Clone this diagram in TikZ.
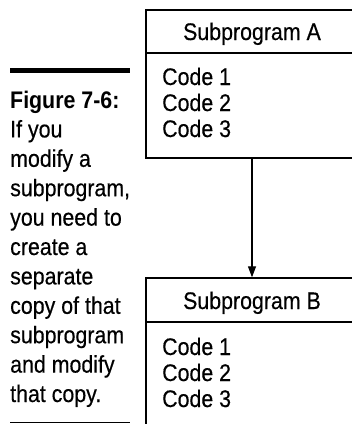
\documentclass[tikz,border=0pt]{standalone}
\usepackage{fontspec}
\setmainfont{Liberation Sans}[FakeStretch=0.89, UprightFeatures={FakeBold=0.4}]
\usetikzlibrary{arrows.meta}
\begin{document}
\begin{tikzpicture}[x=1pt,y=-1pt,
  box/.style={draw, line width=1.4pt, rectangle, minimum width=212pt, inner sep=0pt},
  sepline/.style={line width=1.4pt},
  txt/.style={font=\fontsize{24}{29}\selectfont, inner sep=0pt, anchor=base west},
  captxt/.style={font=\fontsize{24}{29}\selectfont, inner sep=0pt, anchor=base west},
  link/.style={line width=1.2pt, -{Triangle[length=11pt,width=8pt]}}]
\useasboundingbox (0,0) rectangle (352,424);
\clip (0,0) rectangle (352,424);
% boxes
\node[box, minimum height=148pt] (A) at (252,84) {};
\node[box, minimum height=154pt] (B) at (252,355) {};
\draw[sepline] (A.west |- 0,53) -- (A.east |- 0,53);
\draw[sepline] (B.west |- 0,322) -- (B.east |- 0,322);
\node[txt, anchor=base] (ta) at (252,40) {Subprogram A};
\node[txt] (a1) at (162,85) {Code 1};
\node[txt] (a2) at (162,111) {Code 2};
\node[txt] (a3) at (162,137) {Code 3};
\node[txt, anchor=base] (tb) at (252,309) {Subprogram B};
\node[txt] (b1) at (162,355) {Code 1};
\node[txt] (b2) at (162,381) {Code 2};
\node[txt] (b3) at (162,407) {Code 3};
\draw[link] (A.south) -- (B.north);
% caption
\draw[line width=5pt] (10,70.5) -- (130,70.5);
\node[captxt] (c0) at (10,108) {\bfseries Figure 7-6:};
\foreach \t [count=\i] in {If you, modify a, {subprogram,}, you need to, create a, separate, copy of that, subprogram, and modify, that copy.}
  \node[captxt] (c\i) at (10,108+29.4*\i) {\t};
\draw[line width=1.5pt] (10,422.5) -- (130,422.5);
\end{tikzpicture}
\end{document}
